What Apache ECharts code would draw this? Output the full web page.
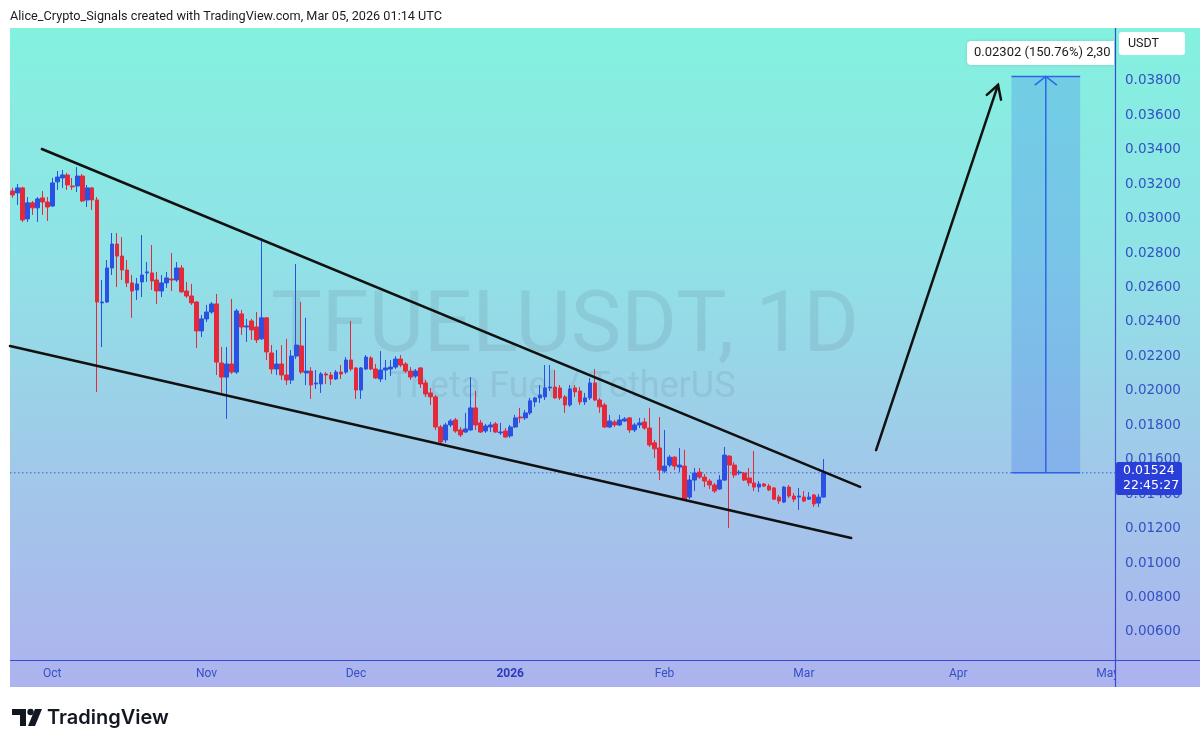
<!DOCTYPE html>
<html>
<head>
<meta charset="utf-8">
<title>TFUELUSDT, 1D</title>
<script src="https://cdn.jsdelivr.net/npm/echarts@6/dist/echarts.min.js"></script>
<style>
html, body { margin: 0; padding: 0; background: #fff; }
#chart { width: 1200px; height: 747px; }
</style>
</head>
<body>
<div id="chart"></div>
<script>
// TFUEL / USDT daily candles, first candle 2025-09-23, last 2026-03-05
const firstDay = Date.UTC(2025, 8, 23);
const dayCount = 222; // time axis runs on to early May

const opens = [
  0.03161, 0.03150, 0.03179, 0.02999, 0.03092, 0.03063, 0.03121, 0.03097, 0.03074, 0.03214,
  0.03237, 0.03254, 0.03190, 0.03190, 0.03248, 0.03109, 0.03179, 0.03109, 0.02511, 0.02516,
  0.02714, 0.02853, 0.02783, 0.02702, 0.02627, 0.02586, 0.02633, 0.02685, 0.02685, 0.02644,
  0.02580, 0.02627, 0.02650, 0.02644, 0.02714, 0.02580, 0.02551, 0.02516, 0.02348, 0.02418,
  0.02458, 0.02505, 0.02162, 0.02080, 0.02156, 0.02109, 0.02447, 0.02371, 0.02406, 0.02371,
  0.02302, 0.02424, 0.02220, 0.02127, 0.02156, 0.02092, 0.02063, 0.02202, 0.02261, 0.02104,
  0.02115, 0.02040, 0.02040, 0.02098, 0.02092, 0.02069, 0.02109, 0.02109, 0.02179, 0.02133,
  0.02005, 0.02127, 0.02191, 0.02127, 0.02069, 0.02121, 0.02127, 0.02138, 0.02185, 0.02156,
  0.02115, 0.02086, 0.02133, 0.02046, 0.01988, 0.01965, 0.01790, 0.01715, 0.01802, 0.01831,
  0.01773, 0.01761, 0.01773, 0.01901, 0.01814, 0.01767, 0.01790, 0.01808, 0.01756, 0.01767,
  0.01738, 0.01790, 0.01848, 0.01843, 0.01872, 0.01936, 0.01959, 0.01965, 0.02017, 0.02022,
  0.02017, 0.01965, 0.01918, 0.02017, 0.01999, 0.01936, 0.01959, 0.02046, 0.01947, 0.01918,
  0.01790, 0.01819, 0.01802, 0.01825, 0.01843, 0.01773, 0.01802, 0.01819, 0.01784, 0.01698,
  0.01668, 0.01534, 0.01569, 0.01615, 0.01557, 0.01563, 0.01383, 0.01482, 0.01528, 0.01499,
  0.01476, 0.01453, 0.01430, 0.01482, 0.01621, 0.01569, 0.01523, 0.01523, 0.01494, 0.01465,
  0.01441, 0.01459, 0.01447, 0.01436, 0.01383, 0.01354, 0.01441, 0.01389, 0.01383, 0.01383,
  0.01371, 0.01395, 0.01348, 0.01383
];
const closes = [
  0.03138, 0.03179, 0.02993, 0.03092, 0.03063, 0.03115, 0.03097, 0.03068, 0.03208, 0.03242,
  0.03254, 0.03196, 0.03185, 0.03248, 0.03103, 0.03179, 0.03109, 0.02516, 0.02516, 0.02714,
  0.02853, 0.02783, 0.02702, 0.02627, 0.02580, 0.02621, 0.02673, 0.02691, 0.02638, 0.02580,
  0.02627, 0.02656, 0.02644, 0.02714, 0.02575, 0.02551, 0.02511, 0.02348, 0.02418, 0.02458,
  0.02505, 0.02167, 0.02080, 0.02156, 0.02109, 0.02464, 0.02371, 0.02377, 0.02354, 0.02296,
  0.02424, 0.02226, 0.02127, 0.02156, 0.02092, 0.02063, 0.02202, 0.02266, 0.02109, 0.02115,
  0.02034, 0.02046, 0.02098, 0.02092, 0.02069, 0.02109, 0.02098, 0.02179, 0.02127, 0.02005,
  0.02133, 0.02196, 0.02127, 0.02075, 0.02121, 0.02133, 0.02138, 0.02185, 0.02150, 0.02115,
  0.02080, 0.02115, 0.02040, 0.01982, 0.01965, 0.01790, 0.01703, 0.01802, 0.01825, 0.01767,
  0.01744, 0.01779, 0.01901, 0.01802, 0.01761, 0.01796, 0.01802, 0.01761, 0.01761, 0.01732,
  0.01790, 0.01843, 0.01843, 0.01872, 0.01942, 0.01959, 0.01976, 0.02017, 0.02022, 0.01959,
  0.01959, 0.01918, 0.02011, 0.01994, 0.01936, 0.01959, 0.02046, 0.01947, 0.01907, 0.01790,
  0.01825, 0.01802, 0.01831, 0.01837, 0.01773, 0.01802, 0.01814, 0.01784, 0.01686, 0.01663,
  0.01540, 0.01563, 0.01615, 0.01563, 0.01569, 0.01371, 0.01482, 0.01523, 0.01499, 0.01476,
  0.01453, 0.01418, 0.01482, 0.01627, 0.01569, 0.01511, 0.01528, 0.01482, 0.01465, 0.01441,
  0.01459, 0.01447, 0.01424, 0.01371, 0.01360, 0.01441, 0.01389, 0.01371, 0.01389, 0.01360,
  0.01383, 0.01343, 0.01383, 0.01524
];
const lows = [
  0.03121, 0.03080, 0.02981, 0.02981, 0.03022, 0.02981, 0.03022, 0.02987, 0.03068, 0.03167,
  0.03179, 0.03167, 0.03167, 0.03155, 0.03097, 0.03068, 0.03051, 0.01993, 0.02255, 0.02511,
  0.02673, 0.02603, 0.02644, 0.02603, 0.02424, 0.02528, 0.02545, 0.02633, 0.02586, 0.02505,
  0.02545, 0.02598, 0.02580, 0.02633, 0.02569, 0.02540, 0.02499, 0.02249, 0.02313, 0.02400,
  0.02447, 0.02092, 0.01976, 0.01837, 0.02098, 0.02098, 0.02325, 0.02284, 0.02296, 0.02278,
  0.02296, 0.02179, 0.02098, 0.02092, 0.02063, 0.02034, 0.02040, 0.02185, 0.02098, 0.02034,
  0.01953, 0.02011, 0.01988, 0.02040, 0.02034, 0.02063, 0.02069, 0.02098, 0.02115, 0.01953,
  0.01953, 0.02121, 0.02121, 0.02069, 0.02051, 0.02063, 0.02086, 0.02127, 0.02138, 0.02104,
  0.02063, 0.02075, 0.02017, 0.01965, 0.01918, 0.01773, 0.01692, 0.01698, 0.01790, 0.01756,
  0.01732, 0.01756, 0.01767, 0.01773, 0.01756, 0.01756, 0.01761, 0.01756, 0.01744, 0.01727,
  0.01727, 0.01784, 0.01814, 0.01831, 0.01860, 0.01907, 0.01930, 0.01947, 0.01999, 0.01953,
  0.01947, 0.01872, 0.01907, 0.01965, 0.01918, 0.01918, 0.01947, 0.01941, 0.01872, 0.01784,
  0.01784, 0.01790, 0.01796, 0.01819, 0.01756, 0.01761, 0.01784, 0.01773, 0.01674, 0.01610,
  0.01482, 0.01523, 0.01557, 0.01540, 0.01528, 0.01366, 0.01371, 0.01418, 0.01488, 0.01441,
  0.01430, 0.01407, 0.01424, 0.01476, 0.01203, 0.01494, 0.01511, 0.01476, 0.01447, 0.01418,
  0.01412, 0.01441, 0.01418, 0.01366, 0.01343, 0.01348, 0.01377, 0.01354, 0.01308, 0.01354,
  0.01366, 0.01325, 0.01325, 0.01380
];
const highs = [
  0.03179, 0.03202, 0.03185, 0.03126, 0.03103, 0.03126, 0.03161, 0.03126, 0.03237, 0.03277,
  0.03283, 0.03266, 0.03237, 0.03300, 0.03260, 0.03196, 0.03185, 0.03126, 0.02644, 0.02760,
  0.02917, 0.02917, 0.02893, 0.02760, 0.02673, 0.02656, 0.02905, 0.02748, 0.02847, 0.02691,
  0.02673, 0.02691, 0.02801, 0.02748, 0.02731, 0.02633, 0.02621, 0.02520, 0.02441, 0.02499,
  0.02516, 0.02563, 0.02255, 0.02255, 0.02534, 0.02476, 0.02470, 0.02418, 0.02418, 0.02458,
  0.02888, 0.02429, 0.02266, 0.02237, 0.02266, 0.02302, 0.02237, 0.02737, 0.02516, 0.02424,
  0.02138, 0.02121, 0.02109, 0.02109, 0.02109, 0.02121, 0.02150, 0.02196, 0.02406, 0.02138,
  0.02138, 0.02208, 0.02202, 0.02156, 0.02231, 0.02179, 0.02179, 0.02202, 0.02208, 0.02167,
  0.02138, 0.02127, 0.02138, 0.02063, 0.02017, 0.01976, 0.01802, 0.01814, 0.01837, 0.01843,
  0.01790, 0.01872, 0.02080, 0.01999, 0.01831, 0.01808, 0.01819, 0.01819, 0.01814, 0.01784,
  0.01802, 0.01860, 0.01901, 0.01889, 0.01959, 0.01965, 0.02034, 0.02150, 0.02150, 0.02121,
  0.02034, 0.01976, 0.02034, 0.02034, 0.02022, 0.01988, 0.02075, 0.02127, 0.01959, 0.01930,
  0.01860, 0.01831, 0.01860, 0.01848, 0.01848, 0.01814, 0.01843, 0.01843, 0.01901, 0.01715,
  0.01848, 0.01773, 0.01627, 0.01621, 0.01668, 0.01657, 0.01511, 0.01552, 0.01552, 0.01517,
  0.01488, 0.01465, 0.01511, 0.01674, 0.01627, 0.01586, 0.01540, 0.01528, 0.01552, 0.01651,
  0.01476, 0.01465, 0.01459, 0.01441, 0.01395, 0.01447, 0.01453, 0.01407, 0.01436, 0.01418,
  0.01412, 0.01401, 0.01401, 0.01604
];

const priceTicks = [0.006, 0.008, 0.010, 0.012, 0.014, 0.016, 0.018, 0.020, 0.022,
  0.024, 0.026, 0.028, 0.030, 0.032, 0.034, 0.036, 0.038];
const monthNames = ['Jan', 'Feb', 'Mar', 'Apr', 'May', 'Jun', 'Jul', 'Aug', 'Sep', 'Oct', 'Nov', 'Dec'];
const lastPrice = 0.01524;

// drawings, in [day index, price] pairs: x1, y1, x2, y2, arrow head?
const drawnLines = [
  [5.9, 0.03405, 170.3, 0.01442, 0],   // upper wedge line
  [-0.5, 0.02261, 168.5, 0.01145, 0],  // lower wedge line
  [173.5, 0.01656, 198.0, 0.03777, 1]  // breakout arrow
];
// price range projection: day from, price from, day to, price to
const targetBox = [[200.7, 0.01524, 214.5, 0.03826]];

const categories = [];
for (let i = 0; i < dayCount; i++) {
  categories.push(new Date(firstDay + i * 86400000).toISOString().slice(0, 10));
}
const candles = opens.map((o, i) => [o, closes[i], lows[i], highs[i]]);

const upColor = '#2B50E4';
const downColor = '#E42A3A';
const axisBlue = '#3A48D4';
const labelBlue = '#3550C4';

function arms(tip, back, len, deg) {
  const dx = back[0] - tip[0], dy = back[1] - tip[1];
  const l = Math.sqrt(dx * dx + dy * dy);
  const ux = dx / l, uy = dy / l;
  const r = deg * Math.PI / 180;
  const c = Math.cos(r), s = Math.sin(r);
  return [
    [tip[0] + len * (ux * c - uy * s), tip[1] + len * (ux * s + uy * c)],
    [tip[0] + len * (ux * c + uy * s), tip[1] + len * (-ux * s + uy * c)]
  ];
}

const chart = echarts.init(document.getElementById('chart'));

const option = {
  animation: false,
  backgroundColor: '#ffffff',
  grid: { left: 10, right: 85, top: 28, bottom: 87 },
  xAxis: [
    {
      type: 'category',
      data: categories,
      boundaryGap: true,
      axisLine: { show: false },
      axisTick: { show: false },
      splitLine: { show: false },
      axisLabel: {
        interval: (index, value) => value.slice(8) === '01',
        formatter: value => {
          const m = +value.slice(5, 7);
          return m === 1 ? '{y|' + value.slice(0, 4) + '}' : monthNames[m - 1];
        },
        color: labelBlue,
        fontFamily: 'Roboto',
        fontSize: 12,
        margin: 8,
        rich: {
          y: { fontWeight: 'bold', color: '#2B3CB8', fontFamily: 'Roboto', fontSize: 12 }
        }
      }
    },
    { type: 'value', min: -0.5, max: dayCount - 0.5, show: false }
  ],
  yAxis: {
    type: 'value',
    position: 'right',
    min: 0.004366,
    max: 0.041078,
    axisLine: { show: false },
    axisTick: { show: false },
    splitLine: { show: false },
    axisLabel: {
      customValues: priceTicks,
      formatter: v => v.toFixed(5),
      color: labelBlue,
      fontFamily: 'DejaVu Sans',
      fontSize: 13.5,
      margin: 10
    }
  },
  series: [
    {
      // last price, dotted across the pane
      type: 'line',
      xAxisIndex: 1,
      data: [[-0.5, lastPrice], [dayCount - 0.5, lastPrice]],
      symbol: 'none',
      silent: true,
      lineStyle: { color: '#3C5AD8', type: [1.5, 2.5], width: 1 },
      z: 2
    },
    {
      type: 'candlestick',
      data: candles,
      barWidth: 4.2,
      itemStyle: {
        color: upColor,
        color0: downColor,
        borderColor: upColor,
        borderColor0: downColor,
        borderWidth: 1
      },
      z: 3
    },
    {
      type: 'custom',
      xAxisIndex: 1,
      yAxisIndex: 0,
      data: targetBox,
      encode: { x: [0, 2], y: [1, 3] },
      z: 4,
      renderItem: (params, api) => {
        const tl = api.coord([api.value(0), api.value(3)]);
        const br = api.coord([api.value(2), api.value(1)]);
        const cx = (tl[0] + br[0]) / 2;
        const head = arms([cx, tl[1]], [cx, br[1]], 14, 52);
        const blue = '#2F63E8';
        return {
          type: 'group',
          children: [
            { type: 'rect', shape: { x: tl[0], y: tl[1], width: br[0] - tl[0], height: br[1] - tl[1] },
              style: { fill: 'rgba(45,105,240,0.24)' } },
            { type: 'line', shape: { x1: tl[0], y1: tl[1], x2: br[0], y2: tl[1] }, style: { stroke: blue, lineWidth: 1.5 } },
            { type: 'line', shape: { x1: tl[0], y1: br[1], x2: br[0], y2: br[1] }, style: { stroke: blue, lineWidth: 1.5 } },
            { type: 'line', shape: { x1: cx, y1: br[1], x2: cx, y2: tl[1] }, style: { stroke: blue, lineWidth: 1.5 } },
            { type: 'polyline', shape: { points: [head[0], [cx, tl[1]], head[1]] },
              style: { stroke: blue, lineWidth: 1.5, fill: null } }
          ]
        };
      }
    },
    {
      type: 'custom',
      xAxisIndex: 1,
      yAxisIndex: 0,
      data: drawnLines,
      encode: { x: [0, 2], y: [1, 3] },
      z: 5,
      renderItem: (params, api) => {
        const a = api.coord([api.value(0), api.value(1)]);
        const b = api.coord([api.value(2), api.value(3)]);
        const children = [
          { type: 'line', shape: { x1: a[0], y1: a[1], x2: b[0], y2: b[1] },
            style: { stroke: '#111111', lineWidth: 2.5, lineCap: 'round' } }
        ];
        if (api.value(4) === 1) {
          const h = arms(b, a, 15, 30);
          children.push({ type: 'polyline', shape: { points: [h[0], b, h[1]] },
            style: { stroke: '#111111', lineWidth: 2.5, fill: null, lineJoin: 'miter', lineCap: 'round' } });
        }
        return { type: 'group', children };
      }
    }
  ],
  graphic: [
    // chart panel background
    { type: 'rect', z: -20, shape: { x: 10, y: 28, width: 1190, height: 659 },
      style: { fill: new echarts.graphic.LinearGradient(0, 0, 0, 1, [
        { offset: 0, color: '#84F1DF' },
        { offset: 0.35, color: '#90E2E6' },
        { offset: 0.65, color: '#A0CAE9' },
        { offset: 1, color: '#ADB3EE' }
      ]) } },
    // watermark
    { type: 'text', z: -10, style: { x: 565, y: 330, text: 'TFUELUSDT, 1D', textAlign: 'center', textVerticalAlign: 'middle',
      font: '85px Roboto', fill: 'rgba(70,80,95,0.12)' } },
    { type: 'text', z: -10, style: { x: 562, y: 388, text: 'Theta Fuel / TetherUS', textAlign: 'center', textVerticalAlign: 'middle',
      font: '36px Roboto', fill: 'rgba(70,80,95,0.11)' } },
    // header
    { type: 'text', z: 10, style: { x: 10, y: 17, text: 'Alice_Crypto_Signals created with TradingView.com, Mar 05, 2026 01:14 UTC',
      textVerticalAlign: 'middle', font: '12.7px Roboto', fill: '#1B1B1F' } },
    // axis lines
    { type: 'line', z: 20, shape: { x1: 10, y1: 660.5, x2: 1200, y2: 660.5 }, style: { stroke: axisBlue, lineWidth: 1.2 } },
    { type: 'rect', z: 19, shape: { x: 1116, y: 661, width: 84, height: 26 }, style: { fill: '#ADB3EE' } },
    { type: 'line', z: 20, shape: { x1: 1115.5, y1: 28, x2: 1115.5, y2: 687 }, style: { stroke: axisBlue, lineWidth: 1.2 } },
    // last price tag
    { type: 'rect', z: 30, shape: { x: 1116, y: 462, width: 66, height: 33, r: 2 }, style: { fill: '#2A3ED8' } },
    { type: 'text', z: 31, style: { x: 1123, y: 471, text: '0.01524', textVerticalAlign: 'middle', font: '12.5px "DejaVu Sans"', fill: '#ffffff' } },
    { type: 'text', z: 31, style: { x: 1123, y: 486, text: '22:45:27', textVerticalAlign: 'middle', font: '12.5px "DejaVu Sans"', fill: '#ffffff' } },
    // currency box
    { type: 'rect', z: 30, shape: { x: 1119, y: 32, width: 66, height: 23, r: 3 }, style: { fill: '#ffffff' } },
    { type: 'text', z: 31, style: { x: 1128, y: 43.5, text: 'USDT', textVerticalAlign: 'middle', font: '12.5px Roboto', fill: '#1B1B1F' } },
    // measure label
    { type: 'rect', z: 30, shape: { x: 967, y: 41, width: 147, height: 24, r: [4, 0, 0, 4] },
      style: { fill: '#ffffff', shadowBlur: 3, shadowColor: 'rgba(0,0,0,0.15)' } },
    { type: 'text', z: 31, style: { x: 974, y: 53, text: '0.02302 (150.76%) 2,30', textVerticalAlign: 'middle',
      font: '13px Roboto', fill: '#1B1B1F', width: 139, overflow: 'truncate', ellipsis: '' } },
    // TradingView logo
    { type: 'polygon', z: 10, shape: { points: [[12, 709], [26, 709], [26, 726], [20, 726], [20, 715], [12, 715]] },
      style: { fill: '#131722' } },
    { type: 'circle', z: 10, shape: { cx: 30.5, cy: 712, r: 3.2 }, style: { fill: '#131722' } },
    { type: 'polygon', z: 10, shape: { points: [[35, 709], [42, 709], [35, 726], [28, 726]] }, style: { fill: '#131722' } },
    { type: 'text', z: 10, style: { x: 47, y: 718, text: 'TradingView', textVerticalAlign: 'middle',
      font: '600 20px Inter', fill: '#131722' } }
  ]
};

chart.setOption(option);
</script>
</body>
</html>
